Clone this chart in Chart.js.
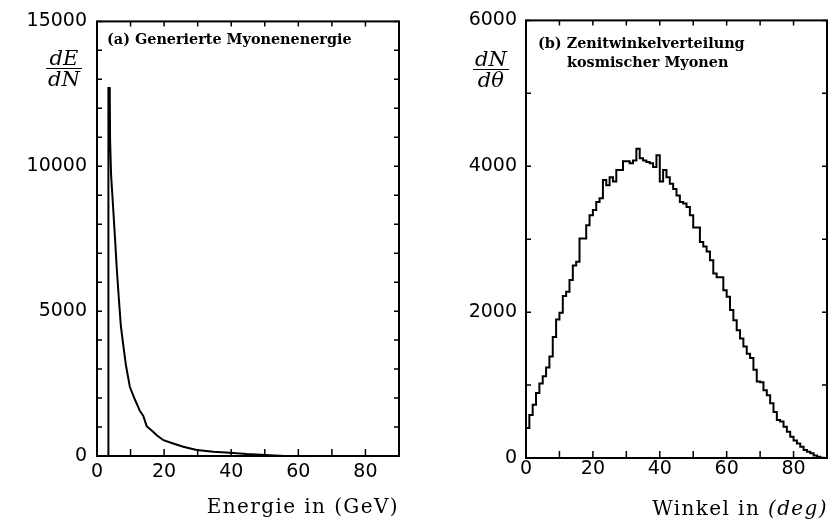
<!DOCTYPE html>
<html>
<head>
<meta charset="utf-8">
<script src="https://cdn.jsdelivr.net/npm/chart.js@4"></script>
<style>
  body { margin: 0; background: #fff; }
  #wrap { position: relative; width: 839px; height: 523px; overflow: hidden; }
  canvas { position: absolute; top: 0; }
  .note { position: absolute; font: bold 14.4px 'DejaVu Serif'; line-height: 19px; color: #000; white-space: nowrap; }
  .frac { position: absolute; font: italic 21px 'DejaVu Serif'; color: #000; text-align: center; }
  .frac span { display: block; line-height: 20px; padding: 0 2px; }
  .frac .num { border-bottom: 1.5px solid #000; }
  .xtitle { position: absolute; font: 20px 'DejaVu Serif'; line-height: 24px; letter-spacing: 1.4px; color: #000; white-space: nowrap; text-align: right; }
</style>
</head>
<body>
<div id="wrap">
  <canvas id="energyChart" width="420" height="523" style="left:0"></canvas>
  <canvas id="angleChart" width="419" height="523" style="left:420px"></canvas>

  <div class="note" style="left:107px; top:29px">(a) Generierte Myonenenergie</div>
  <div class="note" style="left:538px; top:33px">(b) Zenitwinkelverteilung<br><span style="padding-left:29px">kosmischer Myonen</span></div>

  <div class="frac" style="left:46px; top:48px"><span class="num">dE</span><span class="den">dN</span></div>
  <div class="frac" style="left:473px; top:49px"><span class="num">dN</span><span class="den">dθ</span></div>

  <div class="xtitle" style="right:440px; top:494px">Energie in (GeV)</div>
  <div class="xtitle" style="right:11px; top:496px">Winkel in <i>(deg)</i></div>
</div>
<script>
// (a) generierte Myonenenergie
const energyGeV = [3.4, 3.4, 3.8, 3.9, 4.2, 4.9, 5.4, 5.9, 6.5, 7.1, 7.8, 8.6, 9.8, 11.3, 12.8, 13.8, 14.8, 16.8, 17.8, 19.8, 22.7, 25.7, 29.7, 34.7, 39.6, 44.6, 51.6, 56, 70];
const energyCounts = [0, 12700, 12700, 10900, 9700, 8400, 7450, 6450, 5450, 4500, 3850, 3150, 2380, 1950, 1550, 1380, 1030, 830, 714, 545, 430, 317, 204, 147, 113, 68, 24, 0, 0];

// (b) Zenitwinkel, 1 Grad Bins (0..89)
const angleCounts = [
  270, 410, 590, 730, 890, 1020, 1120, 1240, 1390, 1660,
  1900, 1990, 2220, 2280, 2440, 2640, 2690, 3010, 3010, 3190,
  3330, 3400, 3510, 3560, 3810, 3740, 3850, 3790, 3950, 3950,
  4070, 4070, 4040, 4080, 4240, 4110, 4080, 4060, 4040, 3990,
  4150, 3790, 3950, 3850, 3760, 3690, 3600, 3510, 3490, 3440,
  3330, 3160, 3160, 2960, 2900, 2830, 2710, 2530, 2480, 2480,
  2300, 2210, 2030, 1890, 1750, 1640, 1530, 1430, 1370, 1210,
  1050, 1040, 930, 860, 750, 630, 520, 500, 430, 360,
  290, 240, 200, 155, 110, 85, 64, 35, 18, 5
];

const energyTicks = { min: 0, max: 15000, step: 1000, label: 5000 };
const angleTicks = { min: 0, max: 6000, step: 1000, label: 2000 };
const xTicks = { min: 0, max: 90, step: 10, label: 20 };

// Rahmen + Ticks nach innen
const frameTicks = {
  id: 'frameTicks',
  afterDraw(chart) {
    const { ctx, chartArea: a, scales: { x, y } } = chart;
    ctx.save();
    ctx.strokeStyle = '#000';
    ctx.lineWidth = 2;
    ctx.strokeRect(a.left, a.top, a.right - a.left, a.bottom - a.top);
    ctx.lineWidth = 1.5;
    ctx.beginPath();
    x.ticks.forEach(t => {
      const px = x.getPixelForValue(t.value);
      ctx.moveTo(px, a.bottom); ctx.lineTo(px, a.bottom - 7);
      ctx.moveTo(px, a.top); ctx.lineTo(px, a.top + 5);
    });
    y.ticks.forEach(t => {
      const py = y.getPixelForValue(t.value);
      ctx.moveTo(a.left, py); ctx.lineTo(a.left + 5, py);
      ctx.moveTo(a.right, py); ctx.lineTo(a.right - 5, py);
    });
    ctx.stroke();
    ctx.restore();
  }
};

function makeOptions(yt, yWidth, xHeight, pad, yPad, xPad) {
  return {
    responsive: false,
    animation: false,
    layout: { padding: pad },
    plugins: { legend: { display: false }, tooltip: { enabled: false } },
    scales: {
      x: {
        type: 'linear', min: xTicks.min, max: xTicks.max,
        grid: { display: false, drawTicks: false }, border: { display: false },
        ticks: {
          stepSize: xTicks.step, autoSkip: false, maxRotation: 0, padding: xPad,
          color: '#000', font: { family: 'DejaVu Sans', size: 19 },
          callback: v => v % xTicks.label === 0 && v < xTicks.max ? v : ''
        },
        afterFit: s => { s.height = xHeight; }
      },
      y: {
        min: yt.min, max: yt.max,
        grid: { display: false, drawTicks: false }, border: { display: false },
        ticks: {
          stepSize: yt.step, autoSkip: false, maxTicksLimit: 100, padding: yPad,
          color: '#000', font: { family: 'DejaVu Sans', size: 19 },
          callback: v => v % yt.label === 0 ? v : ''
        },
        afterFit: s => { s.width = yWidth; }
      }
    }
  };
}

new Chart(document.getElementById('energyChart'), {
  type: 'line',
  data: {
    datasets: [{
      data: energyGeV.map((e, i) => ({ x: e, y: energyCounts[i] })),
      borderColor: '#000', borderWidth: 2, pointRadius: 0, tension: 0, fill: false
    }]
  },
  options: makeOptions(energyTicks, 97, 67, { left: 0, right: 21, top: 15, bottom: 0 }, 10, 5),
  plugins: [frameTicks]
});

const anglePoints = [{ x: 0, y: 0 }]
  .concat(angleCounts.map((c, i) => ({ x: i, y: c })))
  .concat([{ x: angleCounts.length, y: 0 }]);

new Chart(document.getElementById('angleChart'), {
  type: 'line',
  data: {
    datasets: [{
      data: anglePoints,
      stepped: 'after',
      borderColor: '#000', borderWidth: 2, pointRadius: 0, fill: false
    }]
  },
  options: makeOptions(angleTicks, 106, 65, { left: 0, right: 12, top: 20, bottom: 0 }, 9, 0),
  plugins: [frameTicks]
});
</script>
</body>
</html>
